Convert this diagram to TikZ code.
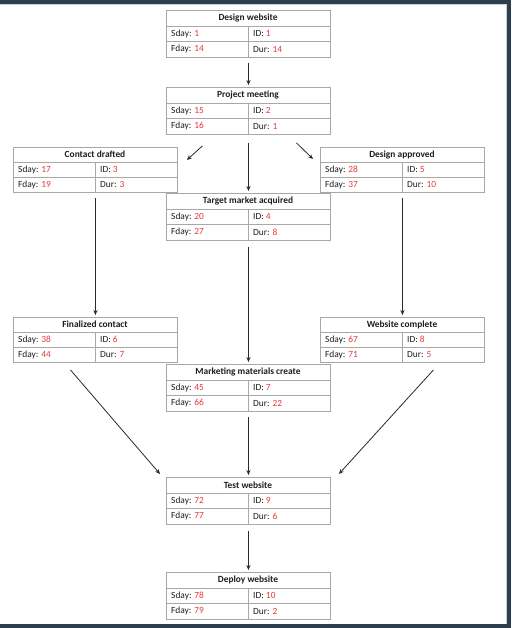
\documentclass[tikz,border=0pt]{standalone}
\usepackage{fontspec}
\setmainfont{Carlito}
\usetikzlibrary{arrows.meta,calc}
\definecolor{frame}{HTML}{2E3E4E}
\definecolor{frameline}{HTML}{C9D2DA}
\definecolor{boxgray}{HTML}{A8A8A8}
\definecolor{numred}{HTML}{E8383D}
\definecolor{txt}{HTML}{1E1E1E}
\definecolor{arrowc}{HTML}{2A2A2A}
\tikzset{
  pbox/.style={draw=boxgray, line width=0.9pt, minimum width=164pt, inner sep=0pt, anchor=north west},
  celltxt/.style={font=\fontsize{9.4}{10}\selectfont, text=txt, anchor=west, inner sep=0pt},
  titletxt/.style={font=\fontsize{9.4}{10}\selectfont\bfseries, text=txt, inner sep=0pt},
  arr/.style={draw=arrowc, line width=0.8pt, -{Stealth[length=5pt,width=4.2pt]}}
}
\newcommand\pbox[9]{%
  \node[pbox, minimum height=#4pt] (#1) at (#2,#3) {};
  \draw[boxgray, line width=0.9pt] (#2,{#3+0.34*#4}) -- ({#2+164},{#3+0.34*#4});
  \draw[boxgray, line width=0.9pt] (#2,{#3+0.67*#4}) -- ({#2+164},{#3+0.67*#4});
  \draw[boxgray, line width=0.9pt] ({#2+82},{#3+0.34*#4}) -- ({#2+82},{#3+#4});
  \node[titletxt] (#1t) at ({#2+82},{#3+0.17*#4}) {#5};
  \node[celltxt] (#1s) at ({#2+5},{#3+0.505*#4}) {Sday: \textcolor{numred}{#6}};
  \node[celltxt] (#1i) at ({#2+87},{#3+0.505*#4}) {ID: \textcolor{numred}{#7}};
  \node[celltxt] (#1f) at ({#2+5},{#3+0.835*#4}) {Fday: \textcolor{numred}{#8}};
  \node[celltxt] (#1d) at ({#2+87},{#3+0.835*#4}) {Dur: \textcolor{numred}{#9}};
}
\begin{document}
\begin{tikzpicture}[x=1pt,y=-1pt]
\useasboundingbox (0,0) rectangle (511,628);
\fill[white] (0,0) rectangle (511,628);
% frame
\fill[frame] (0,0) rectangle (511,4);
\fill[frame] (507,0) rectangle (511,628);
\fill[frame] (0,624) rectangle (511,628);
\draw[frameline, line width=0.8pt] (0,4.4) -- (506.6,4.4) -- (506.6,623.6);
% boxes
\pbox{dw}{166}{10}{47}{Design website}{1}{1}{14}{14}
\pbox{pm}{166}{87}{47}{Project meeting}{15}{2}{16}{1}
\pbox{cd}{13}{147}{45}{Contact drafted}{17}{3}{19}{3}
\pbox{da}{320}{147}{45}{Design approved}{28}{5}{37}{10}
\pbox{tm}{166}{193}{47}{Target market acquired}{20}{4}{27}{8}
\pbox{fc}{13}{317}{45}{Finalized contact}{38}{6}{44}{7}
\pbox{wc}{320}{317}{45}{Website complete}{67}{8}{71}{5}
\pbox{mm}{166}{364}{47}{Marketing materials create}{45}{7}{66}{22}
\pbox{tw}{166}{477}{47}{Test website}{72}{9}{77}{6}
\pbox{dp}{166}{572}{47}{Deploy website}{78}{10}{79}{2}
% arrows
\draw[arr] ([yshift=-5pt]dw.south) -- ([yshift=2pt]pm.north);
\draw[arr] ([yshift=-8pt]pm.south) -- ([yshift=2pt]tm.north);
\draw[arr] ([shift={(-46pt,-11pt)}]pm.south) -- ([shift={(9pt,-13pt)}]cd.north east);
\draw[arr] ([shift={(48pt,-8pt)}]pm.south) -- ([shift={(-7pt,-12pt)}]da.north west);
\draw[arr] ([yshift=-5pt]cd.south) -- ([yshift=2pt]fc.north);
\draw[arr] ([yshift=-6pt]tm.south) -- ([yshift=2pt]mm.north);
\draw[arr] ([yshift=-5pt]da.south) -- ([yshift=2pt]wc.north);
\draw[arr] ([shift={(-25pt,-7pt)}]fc.south) -- ([shift={(-6pt,3pt)}]tw.north west);
\draw[arr] ([shift={(31pt,-7pt)}]wc.south) -- ([shift={(8pt,3pt)}]tw.north east);
\draw[arr] ([yshift=-5pt]mm.south) -- ([yshift=2pt]tw.north);
\draw[arr] ([yshift=-6pt]tw.south) -- ([yshift=2pt]dp.north);
\end{tikzpicture}
\end{document}
